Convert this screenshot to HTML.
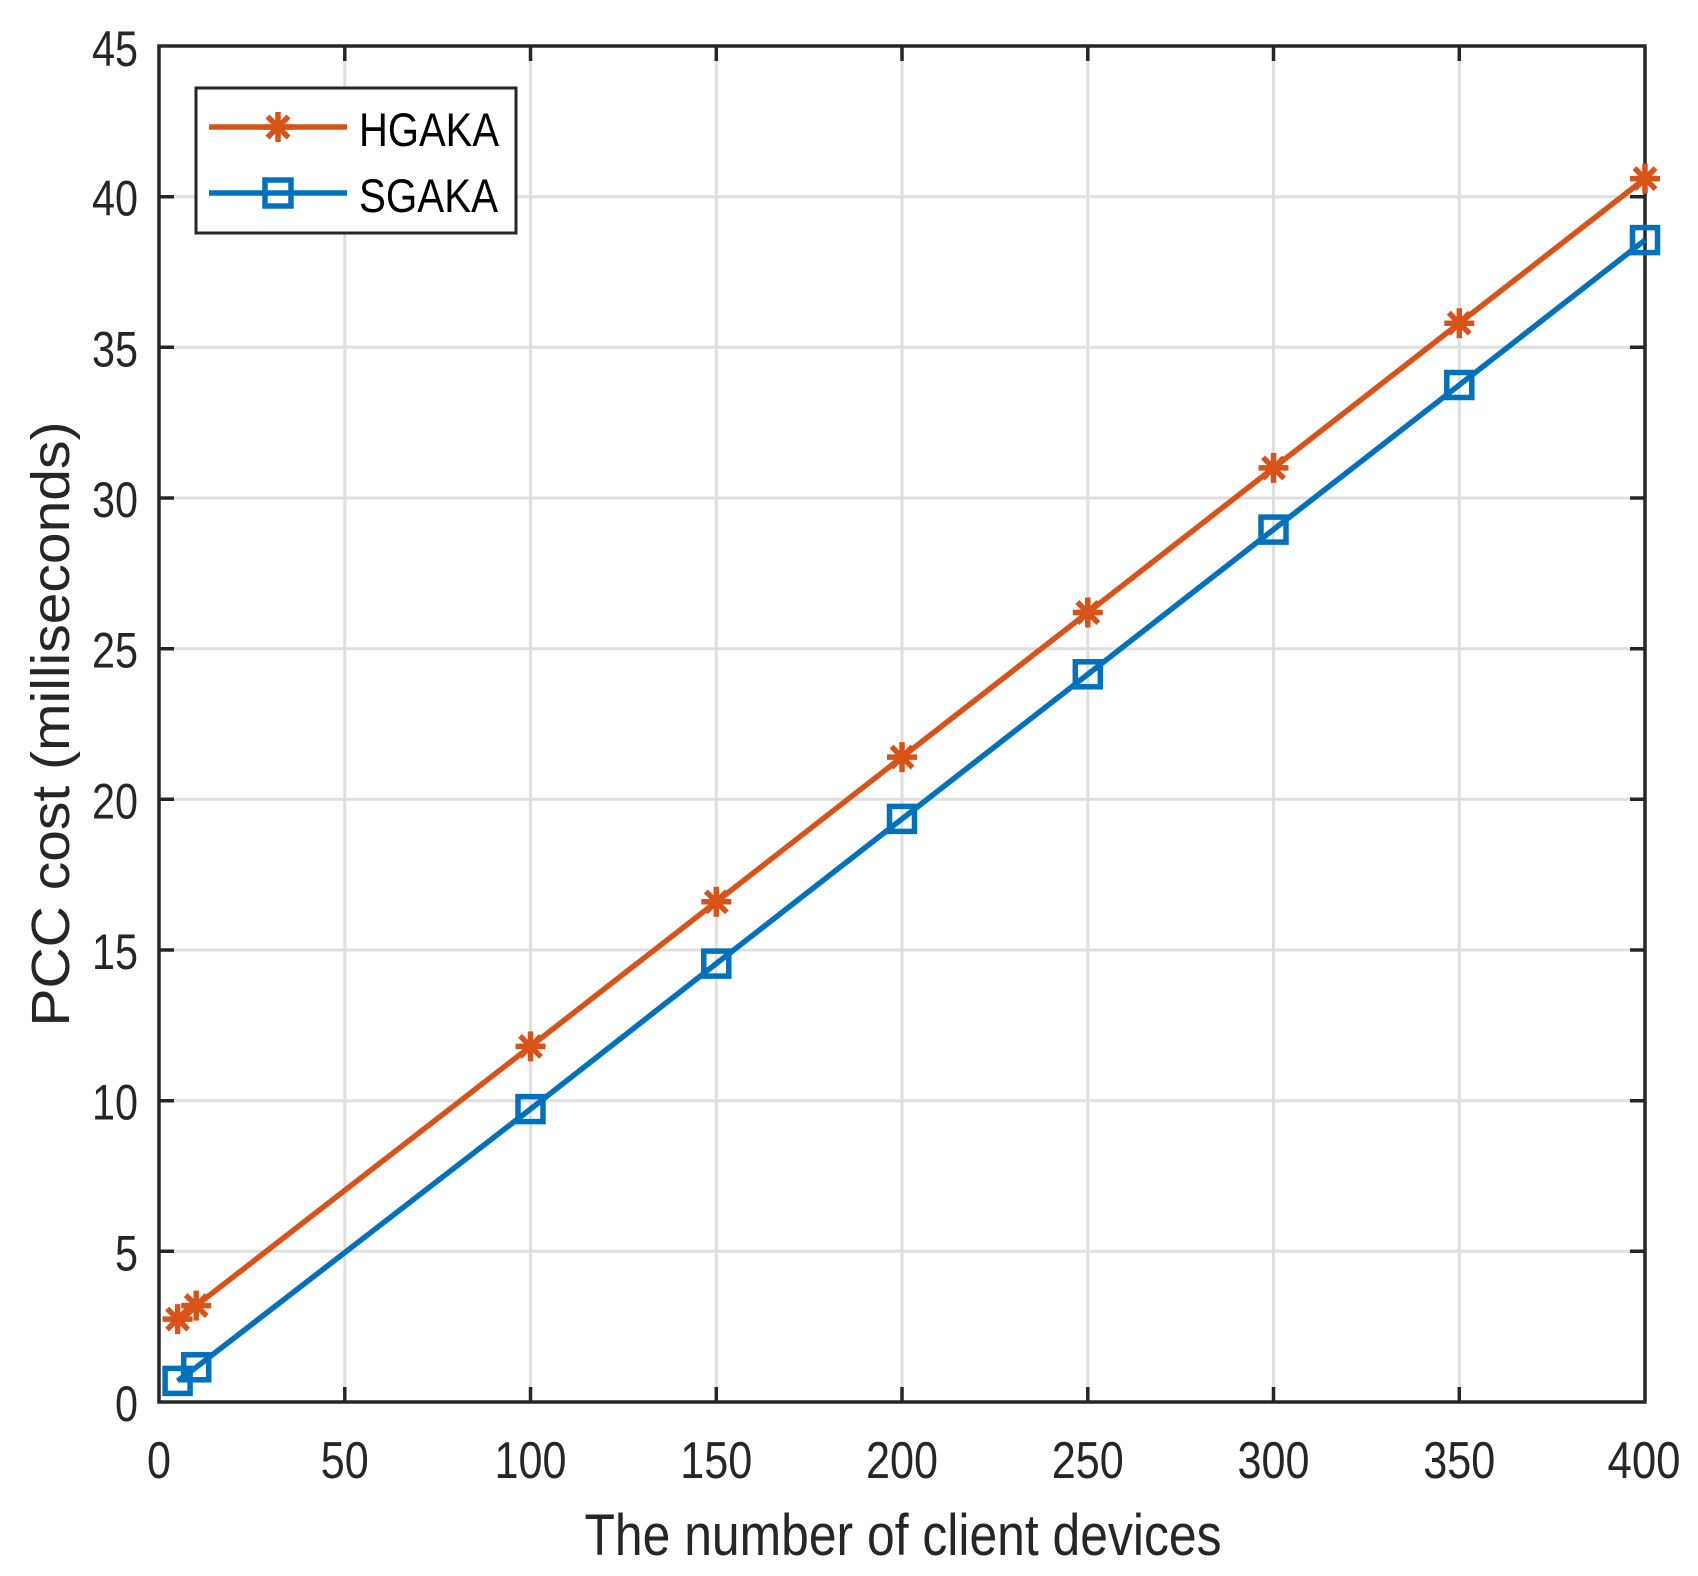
<!DOCTYPE html>
<html><head><meta charset="utf-8"><style>body{margin:0;background:#fff}svg{display:block}</style></head>
<body>
<svg width="1698" height="1576" viewBox="0 0 1698 1576" xmlns="http://www.w3.org/2000/svg">
<defs>
<g id="ast" stroke="#D95319" stroke-width="5.5" fill="none">
<line x1="0" y1="-15" x2="0" y2="15"/><line x1="-15" y1="0" x2="15" y2="0"/>
<line x1="-10.5" y1="-10.5" x2="10.5" y2="10.5"/><line x1="-10.5" y1="10.5" x2="10.5" y2="-10.5"/>
</g>
<rect id="sq" x="-12.5" y="-12.5" width="25" height="25" stroke="#0072BD" stroke-width="5.5" fill="none"/>
</defs>
<rect width="1698" height="1576" fill="#fff"/>
<g stroke="#dfdfdf" stroke-width="3">
<line x1="344.8" y1="46" x2="344.8" y2="1402"/><line x1="530.5" y1="46" x2="530.5" y2="1402"/>
<line x1="716.3" y1="46" x2="716.3" y2="1402"/><line x1="902" y1="46" x2="902" y2="1402"/>
<line x1="1087.8" y1="46" x2="1087.8" y2="1402"/><line x1="1273.5" y1="46" x2="1273.5" y2="1402"/>
<line x1="1459.3" y1="46" x2="1459.3" y2="1402"/>
<line x1="159" y1="1251.3" x2="1645" y2="1251.3"/><line x1="159" y1="1100.7" x2="1645" y2="1100.7"/>
<line x1="159" y1="950" x2="1645" y2="950"/><line x1="159" y1="799.3" x2="1645" y2="799.3"/>
<line x1="159" y1="648.7" x2="1645" y2="648.7"/><line x1="159" y1="498" x2="1645" y2="498"/>
<line x1="159" y1="347.3" x2="1645" y2="347.3"/><line x1="159" y1="196.7" x2="1645" y2="196.7"/>
</g>
<g stroke="#262626" stroke-width="3.5">
<path d="M344.8 1402v-15M530.5 1402v-15M716.3 1402v-15M902 1402v-15M1087.8 1402v-15M1273.5 1402v-15M1459.3 1402v-15
M344.8 46v15M530.5 46v15M716.3 46v15M902 46v15M1087.8 46v15M1273.5 46v15M1459.3 46v15
M159 1251.3h15M159 1100.7h15M159 950h15M159 799.3h15M159 648.7h15M159 498h15M159 347.3h15M159 196.7h15
M1645 1251.3h-15M1645 1100.7h-15M1645 950h-15M1645 799.3h-15M1645 648.7h-15M1645 498h-15M1645 347.3h-15M1645 196.7h-15"/>
<rect x="159" y="46" width="1486" height="1356" fill="none"/>
</g>
<polyline fill="none" stroke="#D95319" stroke-width="5.5" points="177.6,1319.1 196.2,1305.6 530.5,1046.4 716.3,901.8 902,757.1 1087.8,612.5 1273.5,467.9 1459.3,323.2 1645,178.6"/>
<polyline fill="none" stroke="#0072BD" stroke-width="5.5" points="177.6,1380.9 196.2,1367.3 530.5,1109.1 716.3,963.6 902,818.9 1087.8,674.3 1273.5,529.6 1459.3,385 1645,240.1"/>
<use href="#ast" x="177.6" y="1319.1"/><use href="#ast" x="196.2" y="1305.6"/><use href="#ast" x="530.5" y="1046.4"/>
<use href="#ast" x="716.3" y="901.8"/><use href="#ast" x="902" y="757.1"/><use href="#ast" x="1087.8" y="612.5"/>
<use href="#ast" x="1273.5" y="467.9"/><use href="#ast" x="1459.3" y="323.2"/><use href="#ast" x="1645" y="178.6"/>
<use href="#sq" x="177.6" y="1380.9"/><use href="#sq" x="196.2" y="1367.3"/><use href="#sq" x="530.5" y="1109.1"/>
<use href="#sq" x="716.3" y="963.6"/><use href="#sq" x="902" y="818.9"/><use href="#sq" x="1087.8" y="674.3"/>
<use href="#sq" x="1273.5" y="529.6"/><use href="#sq" x="1459.3" y="385"/><use href="#sq" x="1645" y="240.1"/>
<g font-family="Liberation Sans, sans-serif" font-size="52" fill="#262626" text-anchor="middle">
<text x="159" y="1478" textLength="24" lengthAdjust="spacingAndGlyphs">0</text>
<text x="344.8" y="1478" textLength="48" lengthAdjust="spacingAndGlyphs">50</text>
<text x="530.5" y="1478" textLength="72" lengthAdjust="spacingAndGlyphs">100</text>
<text x="716.3" y="1478" textLength="72" lengthAdjust="spacingAndGlyphs">150</text>
<text x="902" y="1478" textLength="72" lengthAdjust="spacingAndGlyphs">200</text>
<text x="1087.8" y="1478" textLength="72" lengthAdjust="spacingAndGlyphs">250</text>
<text x="1273.5" y="1478" textLength="72" lengthAdjust="spacingAndGlyphs">300</text>
<text x="1459.3" y="1478" textLength="72" lengthAdjust="spacingAndGlyphs">350</text>
<text x="1644" y="1478" textLength="73" lengthAdjust="spacingAndGlyphs">400</text>
</g>
<g font-family="Liberation Sans, sans-serif" font-size="50" fill="#262626" text-anchor="end">
<text x="138" y="1421" textLength="23" lengthAdjust="spacingAndGlyphs">0</text>
<text x="138" y="1270.3" textLength="23" lengthAdjust="spacingAndGlyphs">5</text>
<text x="138" y="1119.7" textLength="46" lengthAdjust="spacingAndGlyphs">10</text>
<text x="138" y="969" textLength="46" lengthAdjust="spacingAndGlyphs">15</text>
<text x="138" y="818.3" textLength="46" lengthAdjust="spacingAndGlyphs">20</text>
<text x="138" y="667.7" textLength="46" lengthAdjust="spacingAndGlyphs">25</text>
<text x="138" y="517" textLength="46" lengthAdjust="spacingAndGlyphs">30</text>
<text x="138" y="366.3" textLength="46" lengthAdjust="spacingAndGlyphs">35</text>
<text x="138" y="215.7" textLength="46" lengthAdjust="spacingAndGlyphs">40</text>
<text x="138" y="66" textLength="46" lengthAdjust="spacingAndGlyphs">45</text>
</g>
<text x="903" y="1555" font-family="Liberation Sans, sans-serif" font-size="58" fill="#262626" text-anchor="middle" textLength="637" lengthAdjust="spacingAndGlyphs">The number of client devices</text>
<text transform="translate(69,724) rotate(-90)" font-family="Liberation Sans, sans-serif" font-size="54" fill="#262626" text-anchor="middle" textLength="605" lengthAdjust="spacingAndGlyphs">PCC cost (milliseconds)</text>
<rect x="196" y="88" width="320" height="145" fill="#fff" stroke="#262626" stroke-width="3"/>
<line x1="209" y1="127" x2="347" y2="127" stroke="#D95319" stroke-width="5.5"/>
<use href="#ast" x="278" y="127"/>
<line x1="209" y1="193" x2="347" y2="193" stroke="#0072BD" stroke-width="5.5"/>
<rect x="265" y="180" width="26" height="26" stroke="#0072BD" stroke-width="5.5" fill="none"/>
<g font-family="Liberation Sans, sans-serif" font-size="47" fill="#000">
<text x="359" y="146" textLength="140" lengthAdjust="spacingAndGlyphs">HGAKA</text>
<text x="359" y="212" textLength="139" lengthAdjust="spacingAndGlyphs">SGAKA</text>
</g>
</svg>
</body></html>
